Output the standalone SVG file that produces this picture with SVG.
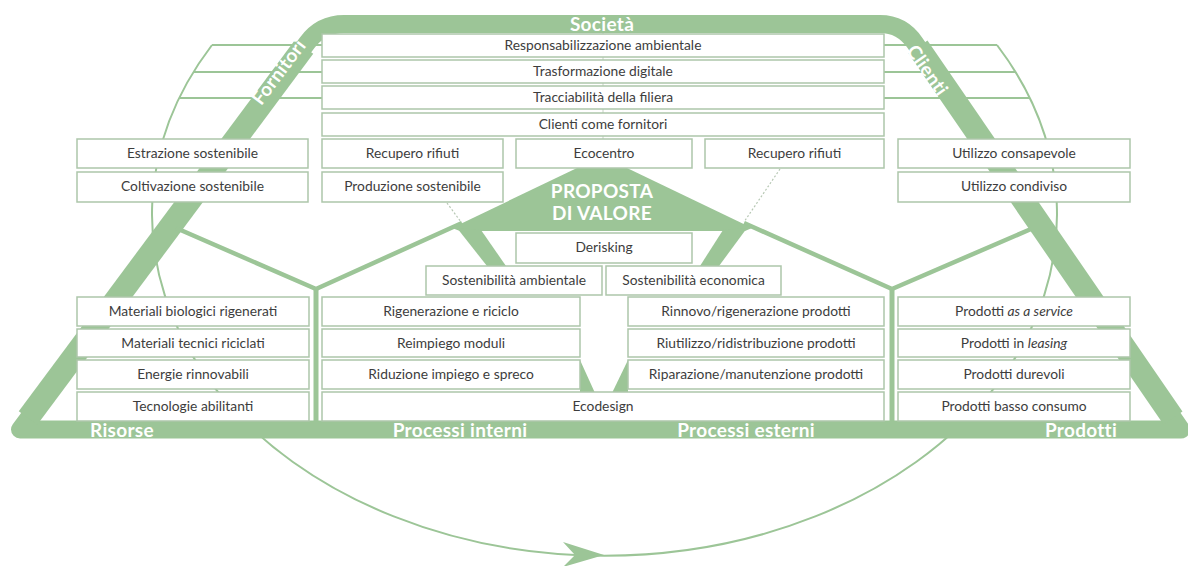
<svg xmlns="http://www.w3.org/2000/svg" width="1188" height="566" viewBox="0 0 1188 566">
  <style>
    .box rect { fill: #ffffff; stroke: #adc6aa; stroke-width: 1.5; }
    .box text { font-family: Lato, "Open Sans", sans-serif; font-size: 13.8px; fill: #3d3d3d; text-anchor: middle; }
    .band-label { font-family: Lato, "Open Sans", sans-serif; font-weight: 700; font-size: 19px; letter-spacing: 0.3px; fill: #ffffff; text-anchor: middle; }
    .green { fill: #9cc597; }
    .gline { stroke: #9cc597; fill: none; }
    .thin { stroke: #9cc597; stroke-width: 2; fill: none; }
    .dash { stroke: #b7c8b4; stroke-width: 1.2; stroke-dasharray: 2 2; fill: none; }
  </style>

  <!-- background cycle: elliptic arc with arrow -->
  <g id="cycle">
    <path class="thin" d="M 212 45 A 452.5 341 0 1 0 997 45"/>
    <path class="green" d="M 604 555 L 563 542 L 575 555 L 563 567 Z"/>
  </g>

  <!-- connectors -->
  <g id="connectors">
    <!-- horizontal guide lines from the arc to the top rows -->
    <line class="thin" x1="212" y1="45" x2="322" y2="45"/>
    <line class="thin" x1="193" y1="72" x2="322" y2="72"/>
    <line class="thin" x1="180" y1="98" x2="322" y2="98"/>
    <line class="thin" x1="884" y1="45" x2="997" y2="45"/>
    <line class="thin" x1="884" y1="72" x2="1015" y2="72"/>
    <line class="thin" x1="884" y1="98" x2="1029" y2="98"/>
    <!-- central thin spine behind the top rows -->
    <line x1="603" y1="33" x2="603" y2="139" stroke="#c6d3c4" stroke-width="1"/>

    <!-- outer frame band -->
    <path class="gline" stroke-width="18" stroke-linejoin="round"
          d="M 20 429.5 L 307 43 Q 321 24 344 24 L 880 24 Q 902 24 915 43 L 1181 429.5 Z"/>
    <line class="gline" stroke-width="23" x1="28" y1="418" x2="304" y2="47"/>
    <line class="gline" stroke-width="23" x1="918" y1="47" x2="1173" y2="418"/>

    <!-- Y junctions -->
    <polyline class="gline" stroke-width="4.5" stroke-linejoin="round" points="176,228 316,289 462,223"/>
    <line class="gline" stroke-width="5" x1="316" y1="289" x2="316" y2="425"/>
    <polyline class="gline" stroke-width="4.5" stroke-linejoin="round" points="1031,229 892,289 744,223"/>
    <line class="gline" stroke-width="5" x1="892" y1="289" x2="892" y2="425"/>

    <!-- value proposition roof and legs -->
    <path class="green" d="M 452 228 L 577 168 L 627 168 L 752 228 L 745 231 L 460 231 Z"/>
    <path class="green" d="M 457 228 L 481 230 L 506 266 L 487 266 Z"/>
    <path class="green" d="M 723 230 L 747 228 L 719 266 L 700 266 Z"/>

    <!-- funnel into Ecodesign -->
    <path class="green" d="M 580 360 L 580 393 L 595 393 Z"/>
    <path class="green" d="M 628 360 L 628 393 L 612 393 Z"/>

    <!-- dotted links -->
    <line class="dash" x1="447" y1="203" x2="461" y2="222"/>
    <line class="dash" x1="780" y1="169" x2="744" y2="222"/>
  </g>

  <!-- top rows -->
  <g id="n-responsabilizzazione" class="box"><rect x="322" y="34" width="562" height="23"/><text x="603" y="50">Responsabilizzazione ambientale</text></g>
  <g id="n-trasformazione" class="box"><rect x="322" y="60" width="562" height="23"/><text x="603" y="76">Trasformazione digitale</text></g>
  <g id="n-tracciabilita" class="box"><rect x="322" y="86" width="562" height="23"/><text x="603" y="102">Tracciabilità della filiera</text></g>
  <g id="n-clienti-fornitori" class="box"><rect x="322" y="113" width="562" height="23"/><text x="603" y="129">Clienti come fornitori</text></g>

  <g id="n-estrazione" class="box"><rect x="77" y="139" width="231" height="29"/><text x="192.5" y="158">Estrazione sostenibile</text></g>
  <g id="n-coltivazione" class="box"><rect x="77" y="172" width="231" height="30"/><text x="192.5" y="191">Coltivazione sostenibile</text></g>
  <g id="n-recupero-1" class="box"><rect x="322" y="139" width="181" height="29"/><text x="412.5" y="158">Recupero rifiuti</text></g>
  <g id="n-produzione" class="box"><rect x="322" y="172" width="181" height="30"/><text x="412.5" y="191">Produzione sostenibile</text></g>
  <g id="n-ecocentro" class="box"><rect x="516" y="139" width="176" height="29"/><text x="604" y="158">Ecocentro</text></g>
  <g id="n-recupero-2" class="box"><rect x="705" y="139" width="179" height="29"/><text x="794.5" y="158">Recupero rifiuti</text></g>
  <g id="n-consapevole" class="box"><rect x="898" y="139" width="232" height="29"/><text x="1014" y="158">Utilizzo consapevole</text></g>
  <g id="n-condiviso" class="box"><rect x="898" y="172" width="232" height="30"/><text x="1014" y="191">Utilizzo condiviso</text></g>

  <!-- value proposition -->
  <g id="n-proposta">
    <text class="band-label" x="602" y="198">PROPOSTA</text>
    <text class="band-label" x="602" y="220">DI VALORE</text>
  </g>
  <g id="n-derisking" class="box"><rect x="516" y="233" width="176" height="30"/><text x="604" y="252">Derisking</text></g>
  <g id="n-sost-amb" class="box"><rect x="426" y="266" width="176" height="29"/><text x="514" y="285">Sostenibilità ambientale</text></g>
  <g id="n-sost-eco" class="box"><rect x="606" y="266" width="175" height="29"/><text x="693.5" y="285">Sostenibilità economica</text></g>

  <!-- Risorse column -->
  <g id="n-mat-bio" class="box"><rect x="77" y="297" width="232" height="29"/><text x="193" y="316">Materiali biologici rigenerati</text></g>
  <g id="n-mat-tec" class="box"><rect x="77" y="329" width="232" height="28"/><text x="193" y="347.5">Materiali tecnici riciclati</text></g>
  <g id="n-energie" class="box"><rect x="77" y="360" width="232" height="29"/><text x="193" y="379">Energie rinnovabili</text></g>
  <g id="n-tecnologie" class="box"><rect x="77" y="392" width="232" height="29"/><text x="193" y="411">Tecnologie abilitanti</text></g>

  <!-- Processi interni column -->
  <g id="n-rigenerazione" class="box"><rect x="322" y="297" width="258" height="29"/><text x="451" y="316">Rigenerazione e riciclo</text></g>
  <g id="n-reimpiego" class="box"><rect x="322" y="329" width="258" height="28"/><text x="451" y="347.5">Reimpiego moduli</text></g>
  <g id="n-riduzione" class="box"><rect x="322" y="360" width="258" height="29"/><text x="451" y="379">Riduzione impiego e spreco</text></g>

  <!-- Processi esterni column -->
  <g id="n-rinnovo" class="box"><rect x="628" y="297" width="256" height="29"/><text x="756" y="316">Rinnovo/rigenerazione prodotti</text></g>
  <g id="n-riutilizzo" class="box"><rect x="628" y="329" width="256" height="28"/><text x="756" y="347.5">Riutilizzo/ridistribuzione prodotti</text></g>
  <g id="n-riparazione" class="box"><rect x="628" y="360" width="256" height="29"/><text x="756" y="379">Riparazione/manutenzione prodotti</text></g>

  <g id="n-ecodesign" class="box"><rect x="322" y="392" width="562" height="29"/><text x="603" y="411">Ecodesign</text></g>

  <!-- Prodotti column -->
  <g id="n-service" class="box"><rect x="898" y="297" width="232" height="29"/><text x="1014" y="316">Prodotti <tspan font-style="italic">as a service</tspan></text></g>
  <g id="n-leasing" class="box"><rect x="898" y="329" width="232" height="28"/><text x="1014" y="347.5">Prodotti in <tspan font-style="italic">leasing</tspan></text></g>
  <g id="n-durevoli" class="box"><rect x="898" y="360" width="232" height="29"/><text x="1014" y="379">Prodotti durevoli</text></g>
  <g id="n-basso" class="box"><rect x="898" y="392" width="232" height="29"/><text x="1014" y="411">Prodotti basso consumo</text></g>

  <!-- frame labels -->
  <g id="labels">
    <text class="band-label" x="602" y="31">Società</text>
    <text class="band-label" x="0" y="0" transform="translate(284 76) rotate(-53)">Fornitori</text>
    <text class="band-label" x="0" y="0" transform="translate(922 74) rotate(55)">Clienti</text>
    <text class="band-label" x="122" y="437">Risorse</text>
    <text class="band-label" x="460" y="437">Processi interni</text>
    <text class="band-label" x="746" y="437">Processi esterni</text>
    <text class="band-label" x="1081" y="437">Prodotti</text>
  </g>
</svg>
